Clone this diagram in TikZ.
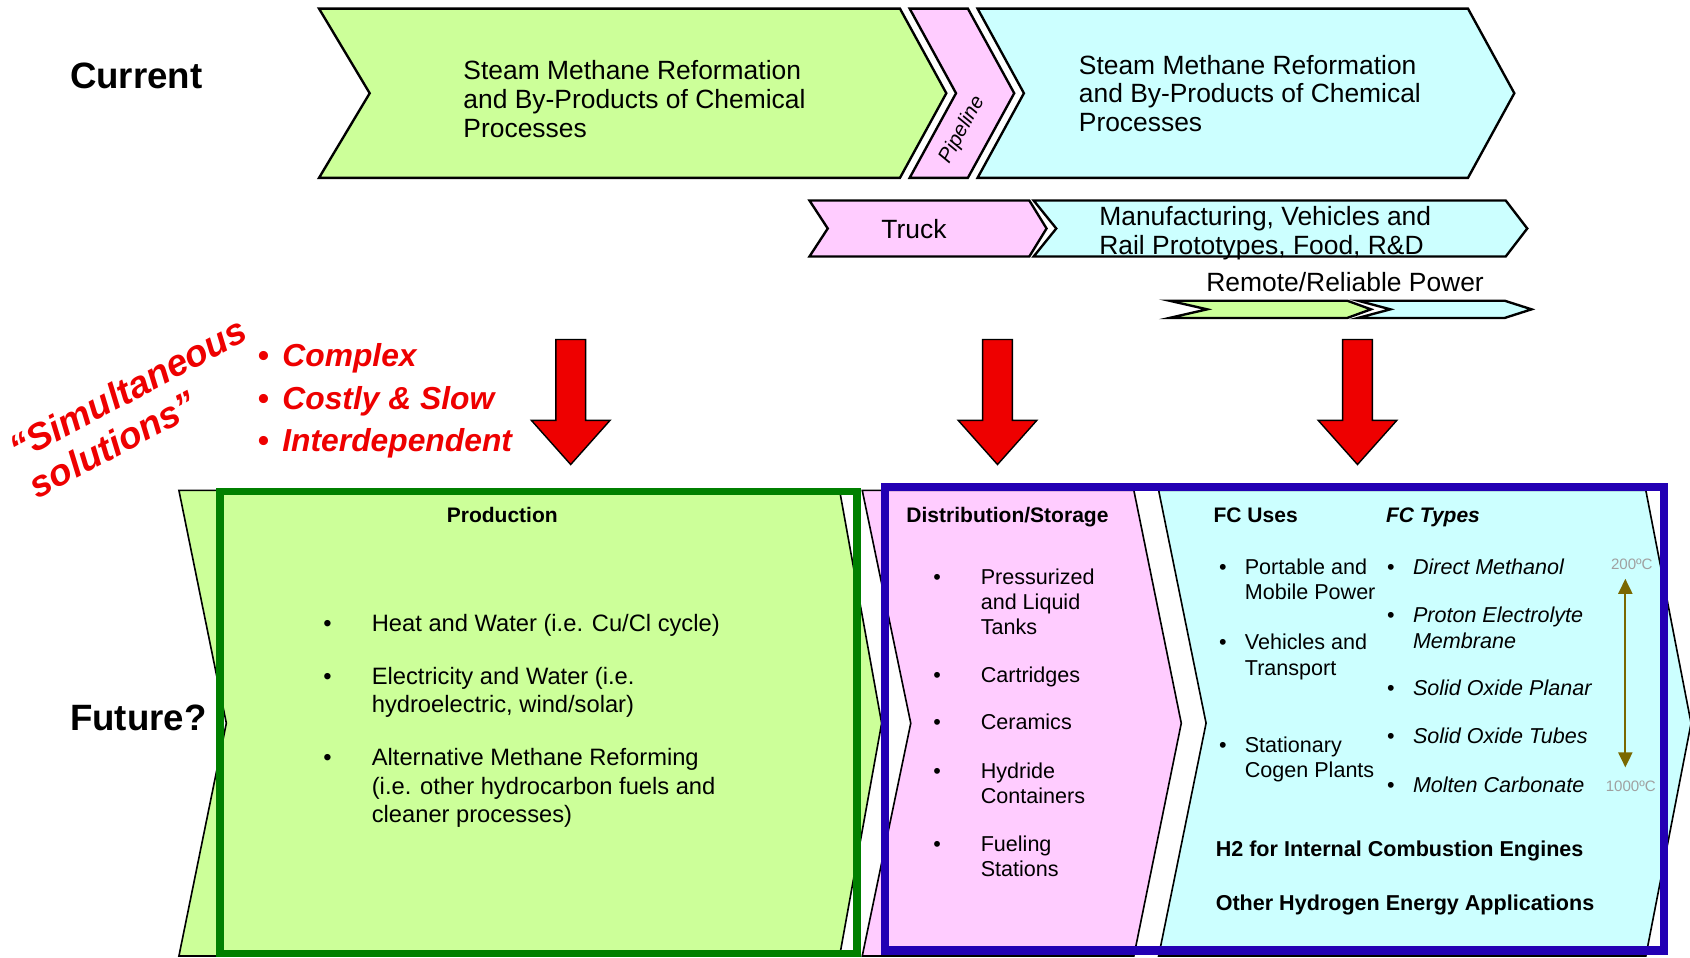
\documentclass[tikz,border=0pt]{standalone}
\usepackage{fontspec}
\setmainfont{Liberation Sans}
\usepackage{array}
\usetikzlibrary{arrows.meta}
\definecolor{cgreen}{HTML}{CCFF99}
\definecolor{cpink}{HTML}{FFCCFF}
\definecolor{ccyan}{HTML}{CCFFFF}
\definecolor{cred}{HTML}{EE0000}
\definecolor{boxgreen}{HTML}{008000}
\definecolor{boxblue}{HTML}{2300B4}
\definecolor{olivearr}{HTML}{7A6800}
\definecolor{tempgray}{HTML}{A0A0A0}
\newcommand\fsz[2]{\fontsize{#1}{#2}\selectfont}
\tikzset{
  chevtop/.style={draw=black,line width=2.2pt,line join=miter},
  chevbot/.style={draw=black,line width=1.5pt,line join=miter},
  txt/.style={inner sep=0pt,outer sep=0pt},
  redarrow/.style={fill=cred,draw=black,line width=1.3pt,line join=miter},
  downarrow/.pic={\path[redarrow] (-13.8,0) -- (13.8,0) -- (13.8,75) -- (36.5,75) -- (0,116) -- (-36.5,75) -- (-13.8,75) -- cycle;}
}
\begin{document}
\begin{tikzpicture}[x=1pt,y=-1pt]
\useasboundingbox (0,0) rectangle (1568,888);
\begin{scope}
\clip (0,0) rectangle (1568,888);
\fill[white] (0,0) rectangle (1568,888);
% top row
\path[chevtop,fill=cgreen] (296,8) -- (835,8) -- (878,86.5) -- (835,165) -- (296,165) -- (343,86.5) -- cycle;
\path[chevtop,fill=cpink] (844,8) -- (898,8) -- (941,86.5) -- (898,165) -- (844,165) -- (887,86.5) -- cycle;
\path[chevtop,fill=ccyan] (907,8) -- (1362,8) -- (1405,86.5) -- (1362,165) -- (907,165) -- (950,86.5) -- cycle;
% second row
\path[chevtop,fill=cpink] (751,186) -- (955,186) -- (971,212) -- (955,238) -- (751,238) -- (768,212) -- cycle;
\path[chevtop,fill=ccyan] (959,186) -- (1397,186) -- (1417,212) -- (1397,238) -- (959,238) -- (980,212) -- cycle;
% small chevrons
\path[chevtop,fill=cgreen] (1085,279) -- (1250,279) -- (1272,287) -- (1250,295) -- (1085,295) -- (1120,287) -- cycle;
\path[chevtop,fill=ccyan] (1260,279) -- (1396,279) -- (1421,287) -- (1396,295) -- (1260,295) -- (1290,287) -- cycle;
% bottom chevrons
\path[chevbot,fill=cgreen] (166,455) -- (779,455) -- (818,671) -- (779,887) -- (166,887) -- (210,671) -- cycle;
\path[chevbot,fill=cpink] (800,455) -- (1052,455) -- (1096,671) -- (1052,887) -- (800,887) -- (845,671) -- cycle;
\path[chevbot,fill=ccyan] (1075,455) -- (1527,455) -- (1569,671) -- (1527,887) -- (1075,887) -- (1119,671) -- cycle;
% frames
\draw[boxgreen,line width=7pt] (204,456) rectangle (795,884.5);
\draw[boxblue,line width=8pt] (821,452) rectangle (1544,882);
% red arrows
\pic at (529.5,315) {downarrow};
\pic at (925.5,315) {downarrow};
\pic at (1259.5,315) {downarrow};
% labels
\node[txt,anchor=base west,font=\bfseries\fsz{34}{38}] (current) at (65,82) {Current};
\node[txt,anchor=base west,font=\bfseries\fsz{34}{38}] (future) at (65,678) {Future?};
\node[txt,anchor=base west,font=\fsz{24.5}{27}] (smrA) at (430,74) {\begin{tabular}[t]{@{}l@{}}Steam Methane Reformation\\ and By-Products of Chemical\\ Processes\end{tabular}};
\node[txt,rotate=61.4,font=\itshape\fsz{19}{19}] (pipe) at (893,121) {Pipeline};
\node[txt,anchor=base west,font=\fsz{24.5}{26.5}] (smrB) at (1001,69) {\begin{tabular}[t]{@{}l@{}}Steam Methane Reformation\\ and By-Products of Chemical\\ Processes\end{tabular}};
\node[txt,anchor=base,font=\fsz{24.5}{27}] (truck) at (848,221) {Truck};
\node[txt,anchor=base west,font=\fsz{24.5}{27}] (manuf) at (1020,209) {\begin{tabular}[t]{@{}l@{}}Manufacturing, Vehicles and\\ Rail Prototypes, Food, R\&D\end{tabular}};
\node[txt,anchor=base,font=\fsz{24.5}{27}] (remote) at (1248,270) {Remote/Reliable Power};
% red remarks
\node[txt,anchor=base west,rotate=28,text=cred,font=\bfseries\itshape\fsz{34.5}{38}] (simA) at (17,429) {“Simultaneous};
\node[txt,anchor=base west,rotate=28,text=cred,font=\bfseries\itshape\fsz{34.5}{38}] (simB) at (35,463) {solutions”};
\node[txt,anchor=base west,text=cred,font=\bfseries\itshape\fsz{29.5}{39.5}] (issues) at (239,340) {\begin{tabular}[t]{@{}p{23pt}@{}l@{}}•&Complex\\ •&Costly \& Slow\\ •&Interdependent\end{tabular}};
% production
\node[txt,anchor=base,font=\bfseries\fsz{19.5}{23}] (prodhead) at (466,485) {Production};
\node[txt,anchor=base west,font=\fsz{22}{26.5}] (prodlist) at (300,586) {\begin{tabular}[t]{@{}p{45pt}@{}l@{}}
•&Heat and Water (i.e. Cu/Cl cycle)\\[22.5pt]
•&Electricity and Water (i.e.\\
&hydroelectric, wind/solar)\\[22.5pt]
•&Alternative Methane Reforming\\
&(i.e. other hydrocarbon fuels and\\
&cleaner processes)
\end{tabular}};
% distribution
\node[txt,anchor=base west,font=\bfseries\fsz{19.5}{23}] (disthead) at (841,485) {Distribution/Storage};
\node[txt,anchor=base west,font=\fsz{20}{23.5}] (distlist) at (866,542) {\begin{tabular}[t]{@{}p{44pt}@{}l@{}}
•&Pressurized\\
&and Liquid\\
&Tanks\\[20.5pt]
•&Cartridges\\[20.5pt]
•&Ceramics\\[21.5pt]
•&Hydride\\
&Containers\\[21pt]
•&Fueling\\
&Stations
\end{tabular}};
% FC uses / types
\node[txt,anchor=base west,font=\bfseries\fsz{19.5}{23}] (fcuses) at (1126,485) {FC Uses};
\node[txt,anchor=base west,font=\bfseries\itshape\fsz{19.5}{23}] (fctypes) at (1286,485) {FC Types};
\node[txt,anchor=base west,font=\fsz{20}{23.5}] (useslist) at (1131,533) {\begin{tabular}[t]{@{}p{24pt}@{}l@{}}
•&Portable and\\
&Mobile Power\\[23pt]
•&Vehicles and\\
&Transport\\[48pt]
•&Stationary\\
&Cogen Plants
\end{tabular}};
\node[txt,anchor=base west,font=\fsz{20}{23.5}] (typeslist) at (1287,533) {\begin{tabular}[t]{@{}p{24pt}@{}>{\itshape}l@{}}
•&Direct Methanol\\[21.5pt]
•&Proton Electrolyte\\
&Membrane\\[20pt]
•&Solid Oxide Planar\\[21.5pt]
•&Solid Oxide Tubes\\[21.5pt]
•&Molten Carbonate
\end{tabular}};
\node[txt,anchor=base,text=tempgray,font=\fsz{14}{16}] (tlow) at (1514,528) {200ºC};
\node[txt,anchor=base,text=tempgray,font=\fsz{14}{16}] (thigh) at (1513,734) {1000ºC};
\coordinate (ttop) at (1508,537);
\coordinate (tbot) at (1508,712);
\draw[olivearr,line width=2pt,{Triangle[width=13pt,length=14pt]}-{Triangle[width=13pt,length=14pt]}] (ttop) -- (tbot);
\node[txt,anchor=base west,font=\bfseries\fsz{20}{23}] (h2ice) at (1128,795) {H2 for Internal Combustion Engines};
\node[txt,anchor=base west,font=\bfseries\fsz{20}{23}] (other) at (1128,845) {Other Hydrogen Energy Applications};
\end{scope}
\end{tikzpicture}
\end{document}
